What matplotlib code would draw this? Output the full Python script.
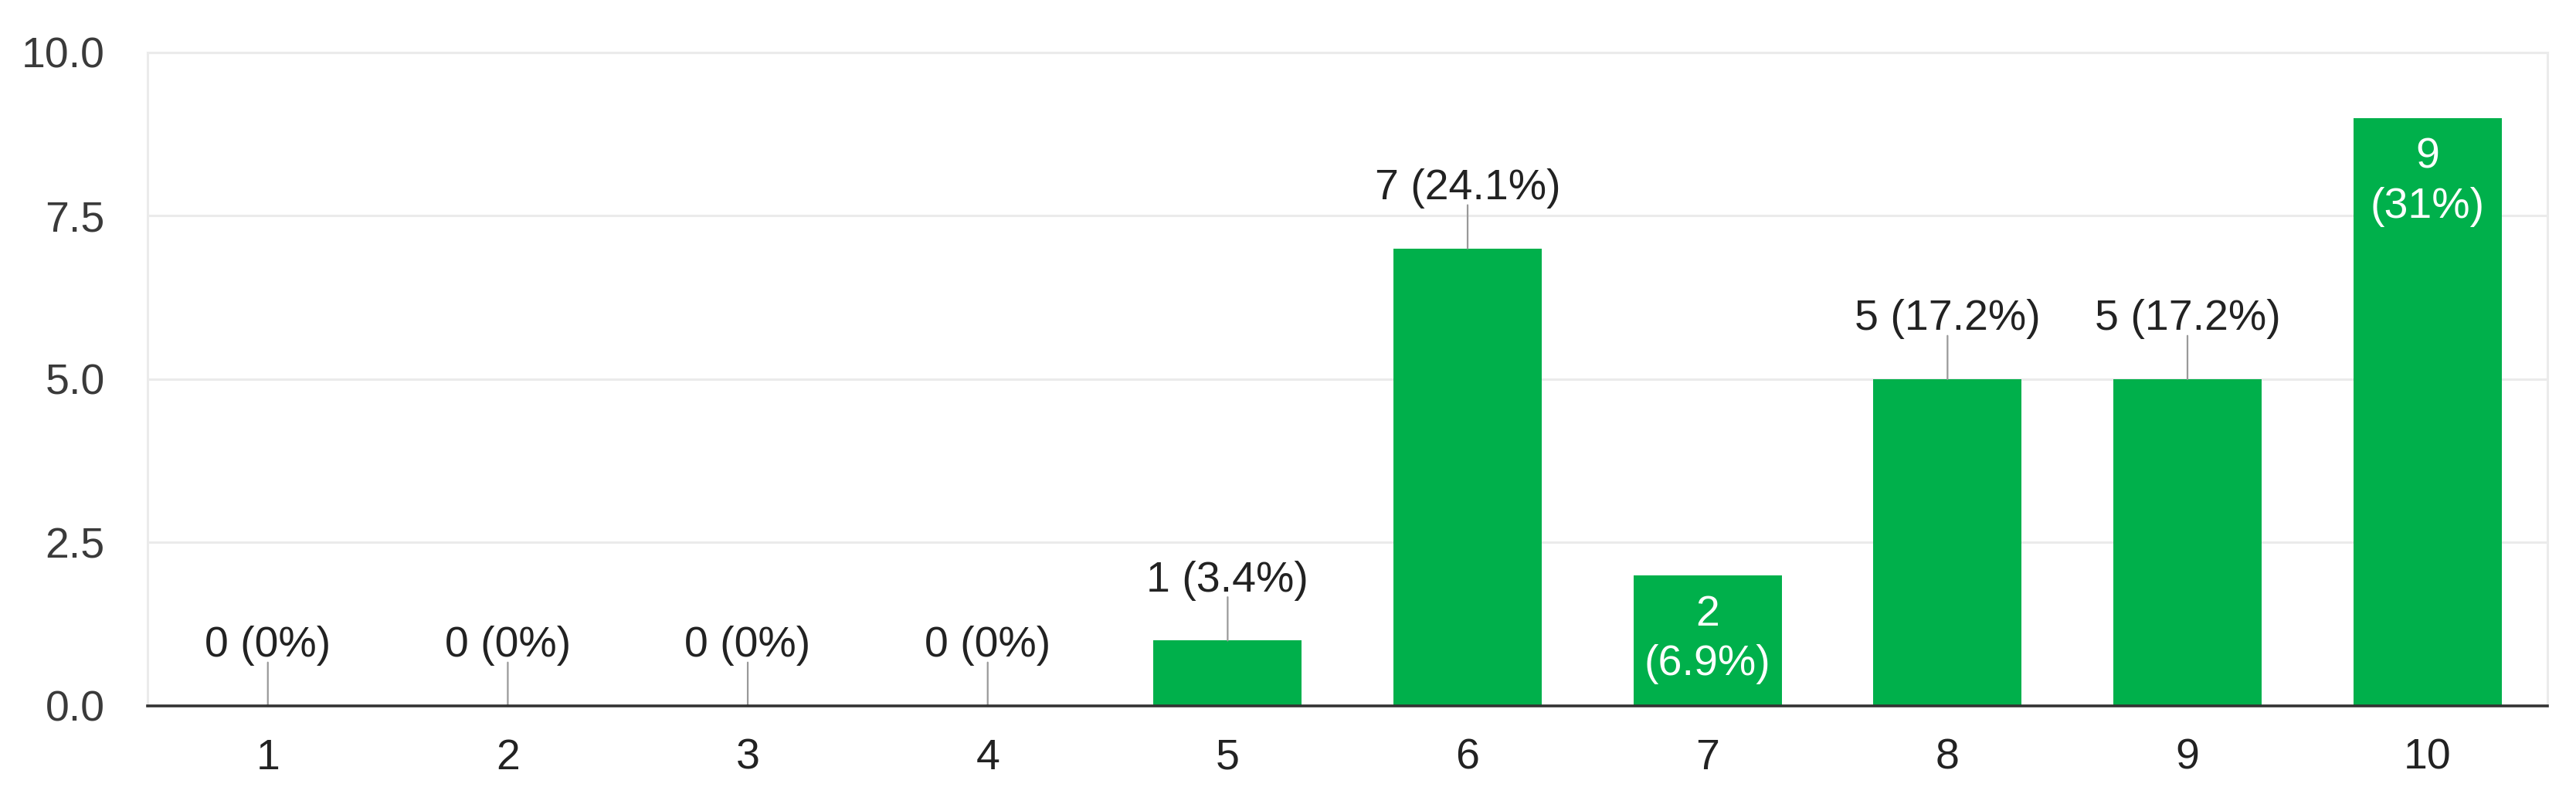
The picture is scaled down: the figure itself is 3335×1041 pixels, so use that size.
import matplotlib
matplotlib.use("Agg")
import matplotlib.pyplot as plt

plt.rcParams["font.family"] = ["Liberation Sans", "DejaVu Sans"]

# 응답 분포 (1~10점)
scores = ["1", "2", "3", "4", "5", "6", "7", "8", "9", "10"]
counts = [0, 0, 0, 0, 1, 7, 2, 5, 5, 9]
percent_labels = ["0%", "0%", "0%", "0%", "3.4%", "24.1%", "6.9%", "17.2%", "17.2%", "31%"]
label_inside = [False, False, False, False, False, False, True, False, False, True]
y_ticks = [0.0, 2.5, 5.0, 7.5, 10.0]

GREEN = "#00b04b"
GRID = "#ebebeb"

fig = plt.figure(figsize=(33.35, 10.41), dpi=100)
ax = fig.add_axes([0.0574, 0.122, 0.9315, 0.8127])

x = list(range(len(scores)))
ax.bar(x, counts, width=0.618, color=GREEN, zorder=3)

ax.set_xlim(-0.5, len(scores) - 0.5)
ax.set_ylim(0, 10)
ax.set_yticks(y_ticks)
ax.set_yticklabels([f"{t:.1f}" for t in y_ticks])
ax.set_xticks(x)
ax.set_xticklabels(scores)

ax.grid(axis="y", color=GRID, linewidth=2.2, zorder=0)
ax.set_axisbelow(True)
for side in ["left", "right", "top"]:
    ax.spines[side].set_color(GRID)
    ax.spines[side].set_linewidth(2.2)
ax.spines["bottom"].set_color("#333333")
ax.spines["bottom"].set_linewidth(2.6)
ax.spines["bottom"].set_zorder(5)

ax.tick_params(axis="both", length=0, labelsize=40)
ax.tick_params(axis="y", pad=40, labelcolor="#3a3a3a")
ax.tick_params(axis="x", pad=30, labelcolor="#222222")

# 막대 라벨
for xi, n, p, inside in zip(x, counts, percent_labels, label_inside):
    if inside:
        ax.annotate(f"{n}\n({p})", xy=(xi, n), xytext=(0, -18),
                    textcoords="offset points", ha="center", va="top",
                    fontsize=40, color="white", linespacing=1.3, zorder=6)
    else:
        ax.annotate("", xy=(xi, n), xytext=(0, 40.5), textcoords="offset points",
                    arrowprops=dict(arrowstyle="-", color="#999999", lw=1.6,
                                    shrinkA=0, shrinkB=0), zorder=4)
        ax.annotate(f"{n} ({p})", xy=(xi, n), xytext=(0, 46),
                    textcoords="offset points", ha="center", va="baseline",
                    fontsize=40, color="#222222", zorder=6)

plt.savefig("out.png", dpi=100)
